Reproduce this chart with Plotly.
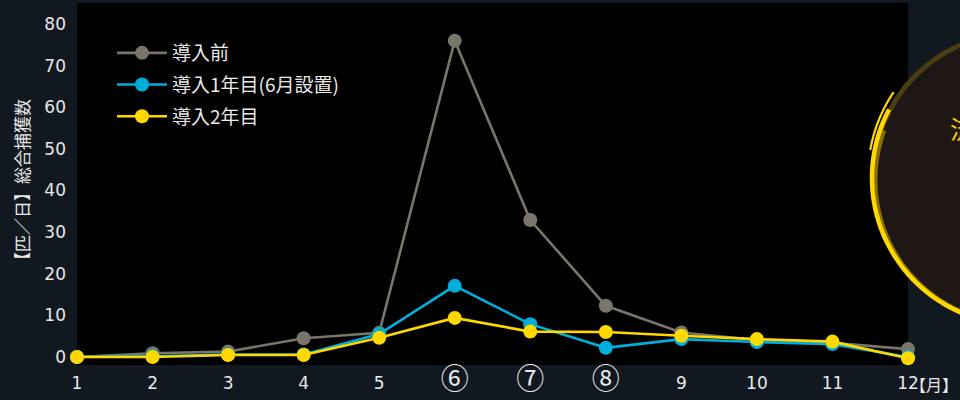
import math
import plotly.graph_objects as go

months = [1, 2, 3, 4, 5, 6, 7, 8, 9, 10, 11, 12]
month_labels = ["1", "2", "3", "4", "5", "⑥", "⑦", "⑧", "9", "10", "11", "12"]
before = [0, 0.9, 1.3, 4.5, 5.8, 76.0, 32.9, 12.3, 5.9, 4.1, 3.4, 1.9]
year1 = [0, 0.2, 0.6, 0.6, 5.5, 17.1, 7.9, 2.2, 4.3, 3.6, 3.1, 0.0]
year2 = [0, 0.0, 0.5, 0.5, 4.6, 9.4, 6.1, 6.0, 5.1, 4.3, 3.7, -0.3]
series_names = ["導入前", "導入1年目(6月設置)", "導入2年目"]
series_colors = ["#7a756b", "#00aedb", "#ffd800"]
y_ticks = [0, 10, 20, 30, 40, 50, 60, 70, 80]
y_title = "【匹／日】総合捕獲数"
x_unit = "【月】"
circle_text = "流"

W, H = 960, 400
L, R, T, B = 77, 52, 3, 35
pw, ph = W - L - R, H - T - B

def px_to_paper(x, y):
    return (x - L) / pw, (H - B - y) / ph

FONT = "Noto Sans CJK JP"
NUMFONT = "DejaVu Sans, Noto Sans CJK JP"

fig = go.Figure()
for i, (name, vals, col) in enumerate(zip(series_names, [before, year1, year2], series_colors)):
    fig.add_trace(go.Scatter(
        x=months, y=vals, name=name, mode="lines+markers",
        line=dict(color=col, width=2.6),
        marker=dict(color=col, size=14),
        cliponaxis=False, legendgroup=f"g{i}",
    ))

ticktext = []
for t in month_labels:
    if t in "⑥⑦⑧":
        ticktext.append("<span style='font-family:Noto Sans CJK JP;font-size:28px'>" + t + "</span>")
    else:
        ticktext.append(t)

# decorative circle on the right
cx, cy, r = 1018, 178, 145
def arc(cx, cy, r, a0, a1, n=80):
    pts = []
    for i in range(n + 1):
        a = math.radians(a0 + (a1 - a0) * i / n)
        pts.append(px_to_paper(cx + r * math.cos(a), cy + r * math.sin(a)))
    return "M " + " L ".join(f"{x:.5f},{y:.5f}" for x, y in pts)

x0, y0 = px_to_paper(cx - r, cy + r)
x1, y1 = px_to_paper(cx + r, cy - r)
shapes = [
    dict(type="circle", xref="paper", yref="paper", x0=x0, y0=y0, x1=x1, y1=y1,
         fillcolor="#1f1716", line=dict(color="#4a3d14", width=5), layer="above"),
    dict(type="path", xref="paper", yref="paper", path=arc(cx + 2, cy + 2, r, 85, 200),
         line=dict(color="#8a7000", width=5), layer="above"),
    dict(type="path", xref="paper", yref="paper", path=arc(cx, cy, r + 1, 85, 208),
         line=dict(color="#ffd800", width=4.5), layer="above"),
    dict(type="path", xref="paper", yref="paper", path=arc(cx, cy - 2, r + 5, 190, 214),
         line=dict(color="#ffd800", width=2.2), layer="above"),
]

tx, ty = px_to_paper(962, 128)
ux, uy = px_to_paper(960, 384)
annotations = [
    dict(text=circle_text, x=tx, y=ty, xref="paper", yref="paper", showarrow=False,
         font=dict(family=FONT, size=25, color="#f5c800"), xanchor="center", yanchor="middle"),
    dict(text=x_unit, x=ux, y=uy, xref="paper", yref="paper", showarrow=False,
         font=dict(family=FONT, size=16, color="#e8e8e8"), xanchor="right", yanchor="middle"),
]

lx, ly = px_to_paper(112, 34)
fig.update_layout(
    width=W, height=H,
    margin=dict(l=L, r=R, t=T, b=B, pad=0),
    paper_bgcolor="#121820", plot_bgcolor="#000000",
    font=dict(family=FONT, color="#e8e8e8", size=17),
    showlegend=True,
    legend=dict(x=lx, y=ly, xanchor="left", yanchor="top", bgcolor="rgba(0,0,0,0)",
                font=dict(family=FONT, size=19, color="#e8e8e8"), tracegroupgap=4,
                itemwidth=50),
    xaxis=dict(range=[1, 12], tickvals=months, ticktext=ticktext, showgrid=False,
               zeroline=False, showline=False, ticks="", ticklabelstandoff=6,
               tickfont=dict(family=NUMFONT, size=17, color="#e8e8e8")),
    yaxis=dict(range=[-1.92, 85.05], tickvals=y_ticks, showgrid=False, zeroline=False,
               showline=False, ticks="", ticklabelstandoff=10,
               tickfont=dict(family=NUMFONT, size=17, color="#e8e8e8"),
               title=dict(text=y_title, font=dict(family=FONT, size=17, color="#e8e8e8"), standoff=10)),
    shapes=shapes, annotations=annotations,
)
fig.write_html("out.html", config={"displayModeBar": False},
               post_script="document.body.style.margin='0px';document.body.style.overflow='hidden';")
